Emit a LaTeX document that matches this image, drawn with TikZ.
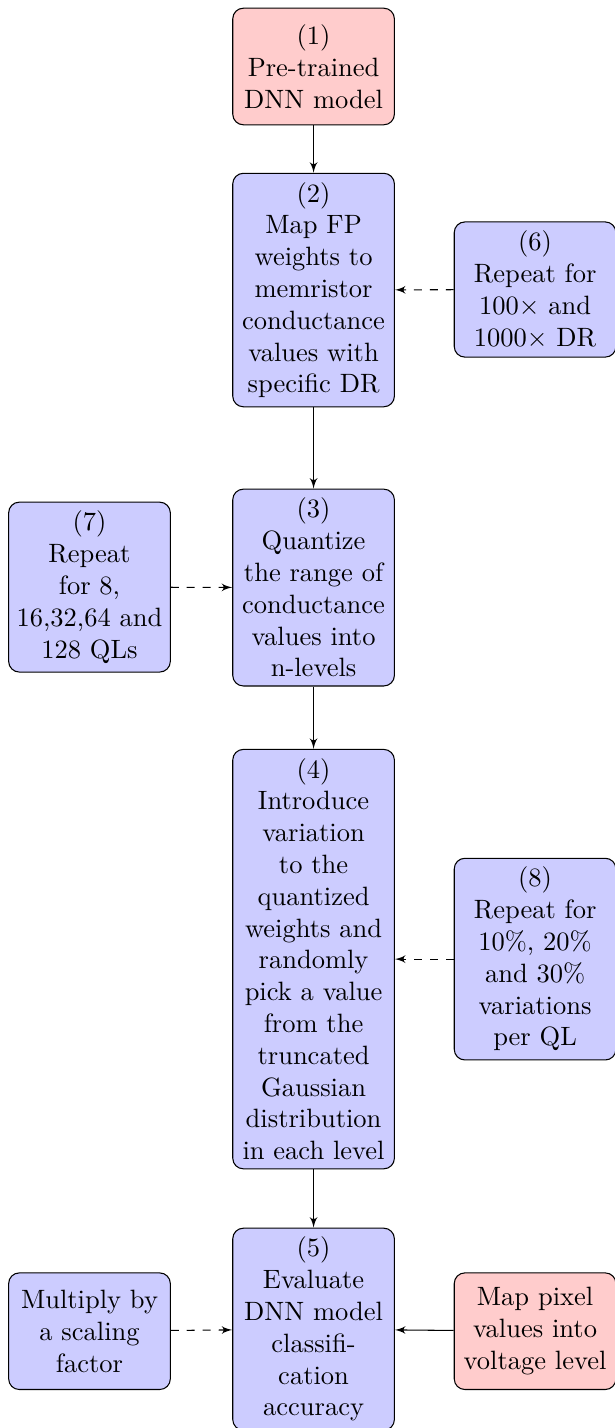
\documentclass[tikz,border=0pt]{standalone}
\usepackage{tikz}
\usetikzlibrary{shapes.geometric}
\usetikzlibrary{arrows}

\begin{document}
\begin{tikzpicture}[
	stage/.style={rectangle, draw, fill=blue!20, rounded corners, text width=5.55em, inner xsep=2.75pt, text centered, minimum height=44pt},
	source/.style={stage, fill=red!20},
	link/.style={draw, -latex'},
	looplink/.style={link, dashed}
	]
					% Frame of the page:
					\useasboundingbox (0, 0) rectangle (8.145, -18.94);
					% Main column:
					\node[source](S1) at (4.159, -0.882){(1)\\Pre-trained\\DNN model};
					\node[stage](S2) at (4.159, -3.847){(2)\\Map FP\\weights to\\memristor\\conductance\\values with\\specific DR};
					\node[stage](S3) at (4.159, -7.793){(3)\\Quantize\\the range of\\conductance\\values into\\n-levels};
					\node[stage](S4) at (4.159, -12.721){(4)\\Introduce\\variation\\to the\\quantized\\weights and\\randomly\\pick a value\\from the\\truncated\\Gaussian\\distribution\\in each level};
					\node[stage](S5) at (4.159, -17.629){(5)\\Evaluate\\DNN model\\classifi-\\cation\\accuracy};
					% Side boxes:
					\node[stage](S6) at (7.097, -3.840){(6)\\Repeat for\\100$\times$ and\\1000$\times$ DR};
					\node[stage](S7) at (1.187, -7.787){(7)\\Repeat\\for 8,\\16,32,64 and\\128 QLs};
					\node[stage](S8) at (7.097, -12.721){(8)\\Repeat for\\10\%, 20\%\\and 30\%\\variations\\per QL};
					\node[stage](Scale) at (1.187, -17.656){Multiply by\\a scaling\\factor};
					\node[source](Pixel) at (7.097, -17.656){Map pixel\\values into\\voltage level};
					% Arrows:
					\draw[link] (S1) -- (S2);
					\draw[link] (S2) -- (S3);
					\draw[link] (S3) -- (S4);
					\draw[link] (S4) -- (S5);
					\draw[looplink] (S6) -- (S2);
					\draw[looplink] (S7) -- (S3);
					\draw[looplink] (S8) -- (S4);
					\draw[looplink] (Scale) -- (S5);
					\draw[link] (Pixel) -- (S5);
				\end{tikzpicture}
\end{document}
